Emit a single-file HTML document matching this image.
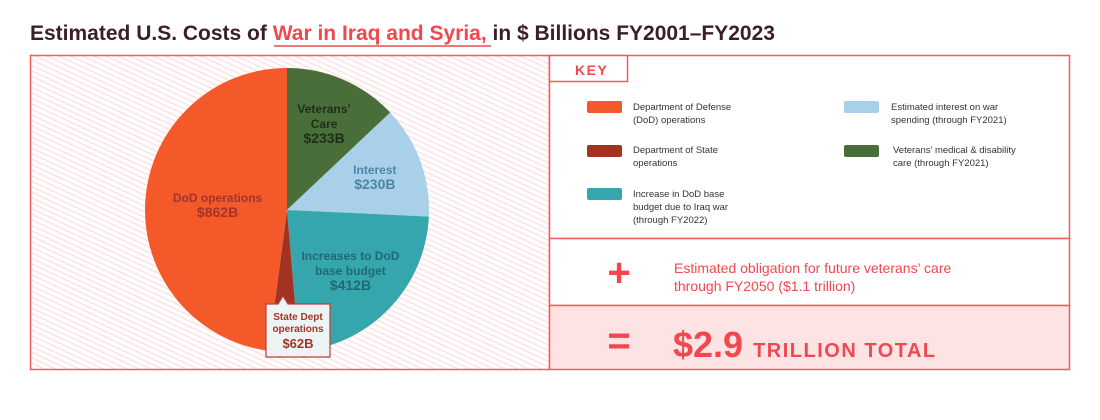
<!DOCTYPE html>
<html><head><meta charset="utf-8"><style>
body{margin:0;background:#fff;width:1100px;height:415px;overflow:hidden;font-family:"Liberation Sans",sans-serif}
</style></head><body>
<svg width="1100" height="415" viewBox="0 0 1100 415" xmlns="http://www.w3.org/2000/svg">
<defs>
<pattern id="hatch" width="5" height="5" patternUnits="userSpaceOnUse" patternTransform="rotate(25)">
<rect width="5" height="5" fill="#fff"/><rect width="5" height="1.6" fill="#fde4e3"/>
</pattern>
</defs>
<text x="30" y="40" font-size="21" font-weight="bold" fill="#3a1f2b">Estimated U.S. Costs of <tspan fill="#f0484e">War in Iraq and Syria,</tspan> in $ Billions FY2001–FY2023</text>
<line x1="274" y1="46" x2="491" y2="46" stroke="#f0484e" stroke-width="1.5"/>
<rect x="30.5" y="55.5" width="519" height="314" fill="url(#hatch)" stroke="#f25c5f" stroke-width="1.5"/>
<g id="pie"></g>
<g>
<path d="M266,304 L278,304 L283,296 L288,304 L330,304 L330,357 L266,357 Z" fill="#eef4f3" stroke="#b7423b" stroke-width="1.2"/>
<text x="298" y="320" font-size="10" font-weight="bold" fill="#a3342a" text-anchor="middle">State Dept</text>
<text x="298" y="332" font-size="10" font-weight="bold" fill="#a3342a" text-anchor="middle">operations</text>
<text x="298" y="348" font-size="13" font-weight="bold" fill="#a3342a" text-anchor="middle">$62B</text>
</g>
<rect x="549.5" y="55.5" width="520" height="183" fill="#fff" stroke="#f25c5f" stroke-width="1.5"/>
<rect x="549.5" y="55.5" width="78" height="26" fill="#fff" stroke="#f25c5f" stroke-width="1.5"/>
<text x="575" y="75" font-size="14" font-weight="bold" fill="#f0484e" letter-spacing="1.5">KEY</text>
<g font-size="9.5" fill="#333">
<g><rect x="587" y="101" width="35" height="12" rx="2" fill="#f4592a"/><text x="633" y="110">Department of Defense</text><text x="633" y="123">(DoD) operations</text></g>
<g><rect x="587" y="145" width="35" height="12" rx="2" fill="#a23323"/><text x="633" y="153">Department of State</text><text x="633" y="166">operations</text></g>
<g><rect x="587" y="188" width="35" height="12" rx="2" fill="#35a6ad"/><text x="633" y="197">Increase in DoD base</text><text x="633" y="210">budget due to Iraq war</text><text x="633" y="223">(through FY2022)</text></g>
<g><rect x="844" y="101" width="35" height="12" rx="2" fill="#a8d0e8"/><text x="891" y="110">Estimated interest on war</text><text x="891" y="123">spending (through FY2021)</text></g>
<g><rect x="844" y="145" width="35" height="12" rx="2" fill="#4a6e3a"/><text x="893" y="153">Veterans' medical &amp; disability</text><text x="893" y="166">care (through FY2021)</text></g>
</g>
<rect x="549.5" y="238.5" width="520" height="67" fill="#fff" stroke="#f25c5f" stroke-width="1.5"/>
<text x="619" y="286" font-size="40" font-weight="bold" fill="#f0484e" text-anchor="middle">+</text>
<text x="674" y="273" font-size="14" fill="#f0484e">Estimated obligation for future veterans’ care</text>
<text x="674" y="291" font-size="14" fill="#f0484e">through FY2050 ($1.1 trillion)</text>
<rect x="549.5" y="305.5" width="520" height="64" fill="#fde3e4" stroke="#f25c5f" stroke-width="1.5"/>
<text x="619" y="354" font-size="40" font-weight="bold" fill="#f0484e" text-anchor="middle">=</text>
<text x="673" y="357" font-size="36" font-weight="bold" fill="#f0484e">$2.9 <tspan font-size="20" letter-spacing="1.5">TRILLION TOTAL</tspan></text>
</svg>
<script>
const categories=["Veterans' Care","Interest","Increases to DoD base budget","State Dept operations","DoD operations"];
const values=[233,230,412,62,862];
const colors=["#4a6e3a","#a8d0e8","#35a6ad","#a23323","#f4592a"];
const labelLines=[["Veterans’","Care","$233B"],["Interest","$230B"],["Increases to DoD","base budget","$412B"],[],["DoD operations","$862B"]];
const labelColors=["#1f2e18","#4c86a8","#1f6a73","","#a3342a"];
const labelRadius=[0.66,0.66,0.62,0,0.49];
const cx=287,cy=210,r=142;
const g=document.getElementById('pie');
const total=values.reduce((a,b)=>a+b,0);
const pt=(a,rr)=>[cx+rr*Math.sin(a),cy-rr*Math.cos(a)];
let a0=0;
const ns="http://www.w3.org/2000/svg";
values.forEach((v,i)=>{
 const a1=a0+v/total*2*Math.PI;
 const p0=pt(a0,r),p1=pt(a1,r);
 const p=document.createElementNS(ns,'path');
 p.setAttribute('d',`M${cx},${cy} L${p0[0]},${p0[1]} A${r},${r} 0 ${a1-a0>Math.PI?1:0} 1 ${p1[0]},${p1[1]} Z`);
 p.setAttribute('fill',colors[i]);
 
 
 g.appendChild(p);
 const lines=labelLines[i];
 if(lines.length){
  const mid=(a0+a1)/2;
  const c=pt(mid,r*labelRadius[i]);
  const n=lines.length;
  lines.forEach((t,j)=>{
   const tx=document.createElementNS(ns,'text');
   tx.setAttribute('x',c[0]);
   tx.setAttribute('y',c[1]+(j-(n-1)/2)*15+4);
   tx.setAttribute('text-anchor','middle');
   tx.setAttribute('font-size',t.startsWith('$')?14:12);
   tx.setAttribute('font-weight','bold');
   tx.setAttribute('fill',labelColors[i]);
   
   
   tx.textContent=t;g.appendChild(tx);
  });
 }
 a0=a1;
});
</script>
</body></html>
